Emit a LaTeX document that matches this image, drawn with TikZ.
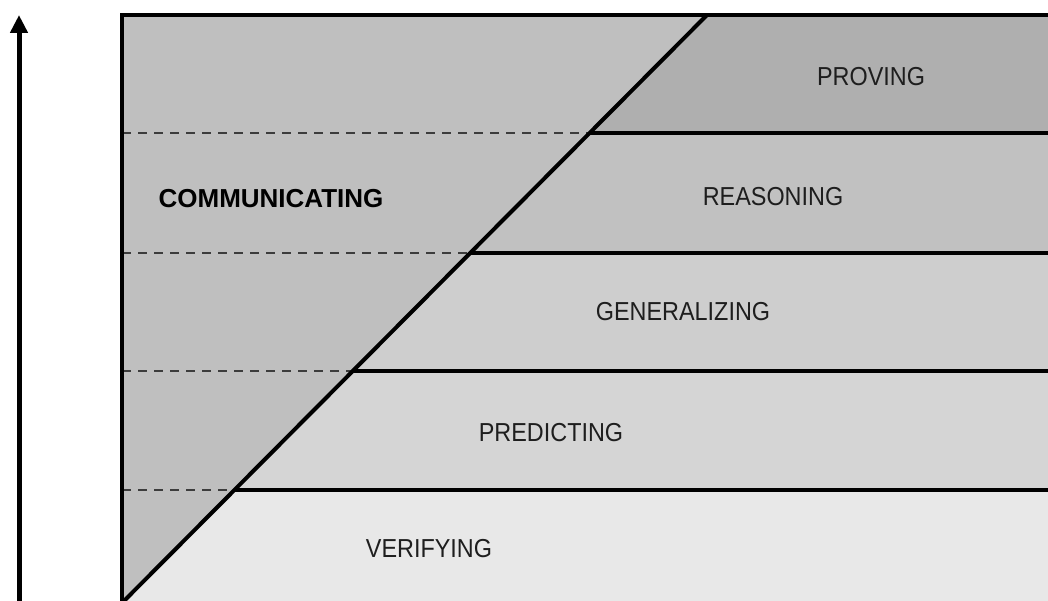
\documentclass[tikz,border=0pt]{standalone}
\usepackage{fontspec}
\setmainfont{Liberation Sans}
\newfontfamily\lblfont[FakeStretch=0.9]{Liberation Sans}
\usetikzlibrary{arrows.meta}
\definecolor{leftgray}{HTML}{BFBFBF}
\definecolor{provegray}{HTML}{AFAFAF}
\definecolor{reasgray}{HTML}{C1C1C1}
\definecolor{gengray}{HTML}{CECECE}
\definecolor{predgray}{HTML}{D5D5D5}
\definecolor{verigray}{HTML}{E8E8E8}
\definecolor{txtgray}{HTML}{1E1E1E}
\definecolor{dashgray}{HTML}{3C3C3C}
\tikzset{
  border/.style={line width=4pt, black},
  divline/.style={line width=4pt, black},
  dashline/.style={line width=1.8pt, dashgray, dash pattern=on 9pt off 7pt},
  lbl/.style={font=\lblfont\fontsize{26}{30}\selectfont, text=txtgray, inner sep=0pt},
  bold/.style={font=\bfseries\fontsize{26}{30}\selectfont, text=black, inner sep=0pt}
}
\begin{document}
\begin{tikzpicture}[x=1pt,y=-1pt]
\useasboundingbox (0,0) rectangle (1048,601);
\fill[white] (0,0) rectangle (1048,601);
\begin{scope}
\clip (0,0) rectangle (1048,601);
% diagonal points
\coordinate (D0) at (707,15);
\coordinate (D1) at (589.6,133);
\coordinate (D2) at (470.2,253);
\coordinate (D3) at (352.8,371);
\coordinate (D4) at (234.4,490);
\coordinate (D5) at (124,601);
\coordinate (L0) at (122,15);
\coordinate (L1) at (122,133);
\coordinate (L2) at (122,253);
\coordinate (L3) at (122,371);
\coordinate (L4) at (122,490);
\coordinate (L5) at (122,610);
\coordinate (R0) at (1060,15);
\coordinate (R1) at (1060,133);
\coordinate (R2) at (1060,253);
\coordinate (R3) at (1060,371);
\coordinate (R4) at (1060,490);
\coordinate (R5) at (1060,610);
\coordinate (D6) at (115,610);
% fills
\fill[leftgray] (L0) -- (D0) -- (D6) -- (L5) -- cycle;
\fill[provegray] (D0) -- (R0) -- (R1) -- (D1) -- cycle;
\fill[reasgray] (D1) -- (R1) -- (R2) -- (D2) -- cycle;
\fill[gengray] (D2) -- (R2) -- (R3) -- (D3) -- cycle;
\fill[predgray] (D3) -- (R3) -- (R4) -- (D4) -- cycle;
\fill[verigray] (D4) -- (R4) -- (R5) -- (D6) -- cycle;
% dashed lines
\draw[dashline] (L1) -- (D1);
\draw[dashline] (L2) -- (D2);
\draw[dashline] (L3) -- (D3);
\draw[dashline] (L4) -- (D4);
% solid dividers
\draw[divline] (D1) -- (R1);
\draw[divline] (D2) -- (R2);
\draw[divline] (D3) -- (R3);
\draw[divline] (D4) -- (R4);
% diagonal
\draw[border] (D0) -- (D6);
% border
\draw[border] (L5) -- (L0) -- (R0);
\end{scope}
% arrow
\coordinate (A0) at (19,601);
\coordinate (A1) at (19,15);
\draw[line width=5pt, -{Triangle[width=17pt,length=18pt]}] (A0) -- (A1);
% labels
\node[lbl] (proving) at (871,77) {PROVING};
\node[lbl] (reasoning) at (773,197) {REASONING};
\node[lbl] (generalizing) at (683,312) {GENERALIZING};
\node[lbl] (predicting) at (551,433) {PREDICTING};
\node[lbl] (verifying) at (429,549) {VERIFYING};
\node[bold] (communicating) at (271,199) {COMMUNICATING};
\end{tikzpicture}
\end{document}
